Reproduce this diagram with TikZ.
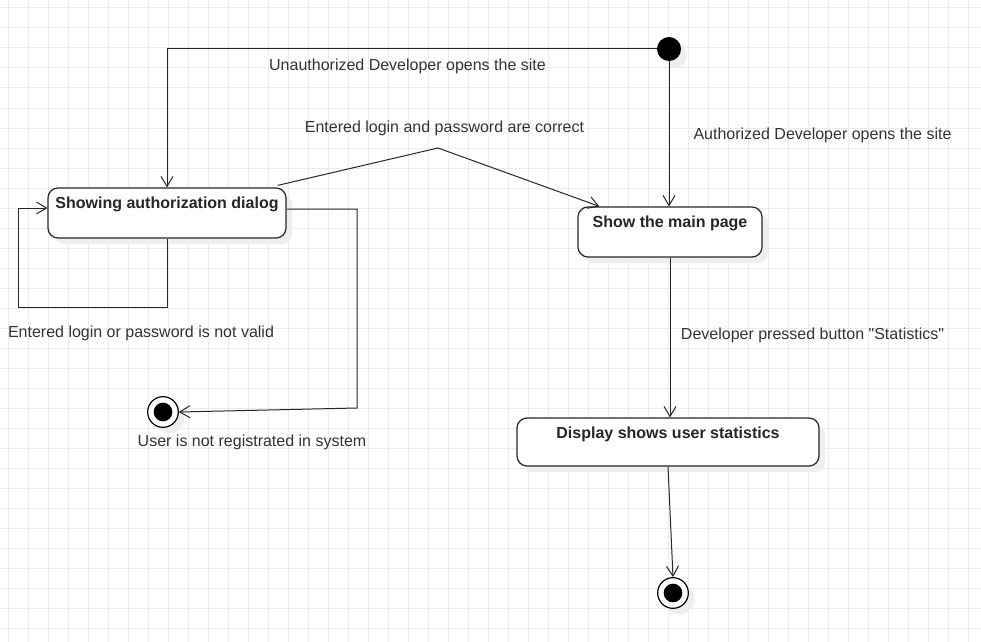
\documentclass[tikz,border=0pt]{standalone}
\usepackage{fontspec}
\setmainfont{Liberation Sans}
\newfontfamily\rawfont{Liberation Sans}
\usetikzlibrary{arrows.meta,calc}
\definecolor{gridc}{HTML}{EBEBEB}
\definecolor{txt}{HTML}{333333}
\definecolor{shadowc}{HTML}{EEEEEE}
\tikzset{
  px/.style={x=0.75pt,y=-0.75pt},
  gridline/.style={draw=gridc,line width=0.75pt},
  statebox/.style={draw=black!85,line width=0.9pt,rounded corners=7.5pt,fill=white,inner sep=0pt},
  boxshadow/.style={fill=shadowc,rounded corners=7.5pt,draw=none,inner sep=0pt},
  boxtitle/.style={font=\bfseries\fontsize{12}{14}\selectfont,text=black!85,inner sep=0pt},
  lbl/.style={font=\fontsize{12}{14}\selectfont,text=txt,inner sep=0pt},
  flow/.style={draw=black!85,line width=0.75pt,-{Straight Barb[length=7.5pt,width=9pt,line width=0.75pt]}},
  initnode/.style={circle,fill=black,minimum size=18pt,inner sep=0pt},
  finalouter/.style={circle,draw=black,line width=0.9pt,fill=white,minimum size=23pt,inner sep=0pt},
  finalinner/.style={circle,fill=black,minimum size=14pt,inner sep=0pt},
  dotshadow/.style={circle,fill=shadowc,inner sep=0pt},
}
\begin{document}
\begin{tikzpicture}[px]
\useasboundingbox (0,0) rectangle (981,642);
\fill[white] (0,0) rectangle (981,642);
% grid
\foreach \i in {0,...,48} {\draw[gridline] (8+20*\i,0) -- (8+20*\i,642);}
\foreach \j in {0,...,31} {\draw[gridline] (0,8+20*\j) -- (981,8+20*\j);}

% shadows
\node[boxshadow,minimum width=178.5pt,minimum height=37.5pt] at (173,219) {};
\node[boxshadow,minimum width=138pt,minimum height=37.5pt] at (676,238) {};
\node[boxshadow,minimum width=226.5pt,minimum height=36pt] at (674,448) {};
\node[dotshadow,minimum size=18pt] at (675,55) {};
\node[dotshadow,minimum size=23pt] at (169,418) {};
\node[dotshadow,minimum size=23pt] at (679,599) {};

% states
\node[statebox,minimum width=178.5pt,minimum height=37.5pt] (b1) at (167,213) {};
\node[boxtitle] (t1) at (167,204) {Showing authorization dialog};
\node[statebox,minimum width=138pt,minimum height=37.5pt] (b2) at (670,232) {};
\node[boxtitle] (t2) at (670,223) {Show the main page};
\node[statebox,minimum width=226.5pt,minimum height=36pt] (b3) at (668,442) {};
\node[boxtitle] (t3) at (668,434) {Display shows user statistics};

% initial and final
\node[initnode] (init) at (669,49) {};
\node[finalouter] (f1) at (163,412) {};
\node[finalinner] (f1i) at (163,412) {};
\node[finalouter] (f2) at (673,593) {};
\node[finalinner] (f2i) at (673,593) {};

% helper coordinates
\coordinate (c1) at (438,148);
\coordinate (l1) at (18,307);
\coordinate (r1) at (357,408);

% connectors
\draw[flow] (init.west) -| (b1.north);
\draw[flow] (init.south) -- (init.south |- b2.north);
\draw[flow] ($(b1.north east)+(-9,-2)$) -- (c1) -- ($(b2.north west)+(22,0)$);
\draw[flow] (b1.south) |- (l1) |- ([yshift=3.75pt]b1.west);
\draw[flow] ([yshift=3pt]b1.east) -| (r1) -- (f1.east);
\draw[flow] (b2.south) -- (b2.south |- b3.north);
\draw[flow] (b3.south) -- (f2.north);

% labels
\node[lbl] (L1) at (407.5,66) {Unauthorized Developer opens the site};
\node[lbl] (L2) at (444.5,128) {Entered login and password are correct};
\node[lbl] (L3) at (822.5,135) {Authorized Developer opens the site};
\node[lbl] (L4) at (141,333) {Entered login or password is not valid};
\node[lbl] (L5) at (252,442) {User is not registrated in system};
\node[lbl] (L6) at (812.5,335) {\rawfont Developer pressed button "Statistics"};
\end{tikzpicture}
\end{document}
